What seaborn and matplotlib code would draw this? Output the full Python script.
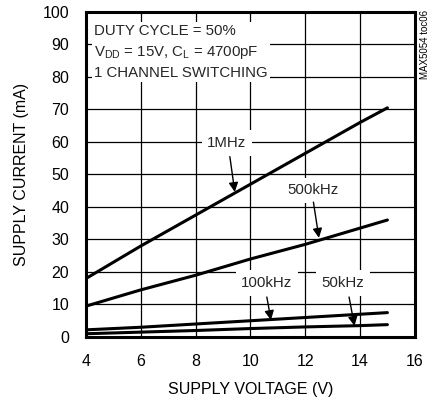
import matplotlib
matplotlib.use("Agg")
import matplotlib.pyplot as plt
import seaborn as sns
import pandas as pd

voltage = [4, 6, 8, 10, 12, 14, 15]
i_1mhz = [18.0, 28.0, 37.5, 47.0, 56.5, 66.0, 70.5]
i_500khz = [9.5, 14.5, 19.0, 24.0, 28.5, 33.5, 36.0]
i_100khz = [2.2, 3.0, 4.0, 5.0, 6.0, 7.0, 7.5]
i_50khz = [1.0, 1.5, 2.0, 2.6, 3.1, 3.5, 3.8]
series_names = ["1MHz", "500kHz", "100kHz", "50kHz"]
x_ticks = [4, 6, 8, 10, 12, 14, 16]
y_ticks = [0, 10, 20, 30, 40, 50, 60, 70, 80, 90, 100]

rows = []
for name, vals in zip(series_names, [i_1mhz, i_500khz, i_100khz, i_50khz]):
    for v, c in zip(voltage, vals):
        rows.append({"V": v, "I": c, "freq": name})
df = pd.DataFrame(rows)

sns.set_theme(style="white")
plt.rcParams['font.family'] = ['Liberation Sans', 'DejaVu Sans']

fig = plt.figure(figsize=(4.33, 4.01), dpi=100)
ax = fig.add_axes([0.1986, 0.1596, 0.7594, 0.8105])

sns.lineplot(data=df, x="V", y="I", hue="freq", palette=["black"] * 4,
             legend=False, ax=ax, linewidth=2.2, zorder=3)

ax.set_xlim(4, 16)
ax.set_ylim(0, 100)
ax.set_xticks(x_ticks)
ax.set_yticks(y_ticks)
ax.grid(True, color="black", linewidth=0.9)
ax.tick_params(axis="y", length=0, labelsize=11.5, colors="black", pad=12)
ax.tick_params(axis="x", length=0, labelsize=11.5, colors="black", pad=12)
for s in ax.spines.values():
    s.set_color("black")
    s.set_linewidth(2.2)
ax.set_xlabel("SUPPLY VOLTAGE (V)", fontsize=11.5, color="black", labelpad=9.5)
ax.set_ylabel("SUPPLY CURRENT (mA)", fontsize=11.5, color="black", labelpad=10)

box = dict(facecolor="white", edgecolor="none", pad=1.5)
ax.text(4.3, 96.2, "DUTY CYCLE = 50%\n$\\mathregular{V_{DD}}$ = 15V, $\\mathregular{C_L}$ = 4700pF\n1 CHANNEL SWITCHING",
        fontsize=10.8, va="top", ha="left", linespacing=1.45, bbox=box, zorder=4)

lbox = dict(facecolor="white", edgecolor="none", pad=4)
ap = dict(arrowstyle="-|>", color="black", lw=1.0, mutation_scale=14, shrinkA=0, shrinkB=0)
labels = [("1MHz", (9.14, 59.7), (9.25, 55.5), (9.43, 44.6)),
          ("500kHz", (12.28, 45.2), (12.3, 41.5), (12.5, 30.5)),
          ("100kHz", (10.6, 16.6), (10.6, 12.3), (10.75, 5.2)),
          ("50kHz", (13.37, 16.6), (13.6, 12.3), (13.8, 3.4))]
for name, tpos, tail, tip in labels:
    ax.text(tpos[0], tpos[1], name, fontsize=10.8, ha="center", va="center", bbox=lbox, zorder=4)
    ax.annotate("", xy=tip, xytext=tail, arrowprops=ap, zorder=5)

fig.text(0.982, 0.975, "MAX5054 toc06", rotation=90, fontsize=7, va="top", ha="center", color="black")

fig.savefig("out.png", dpi=100)
